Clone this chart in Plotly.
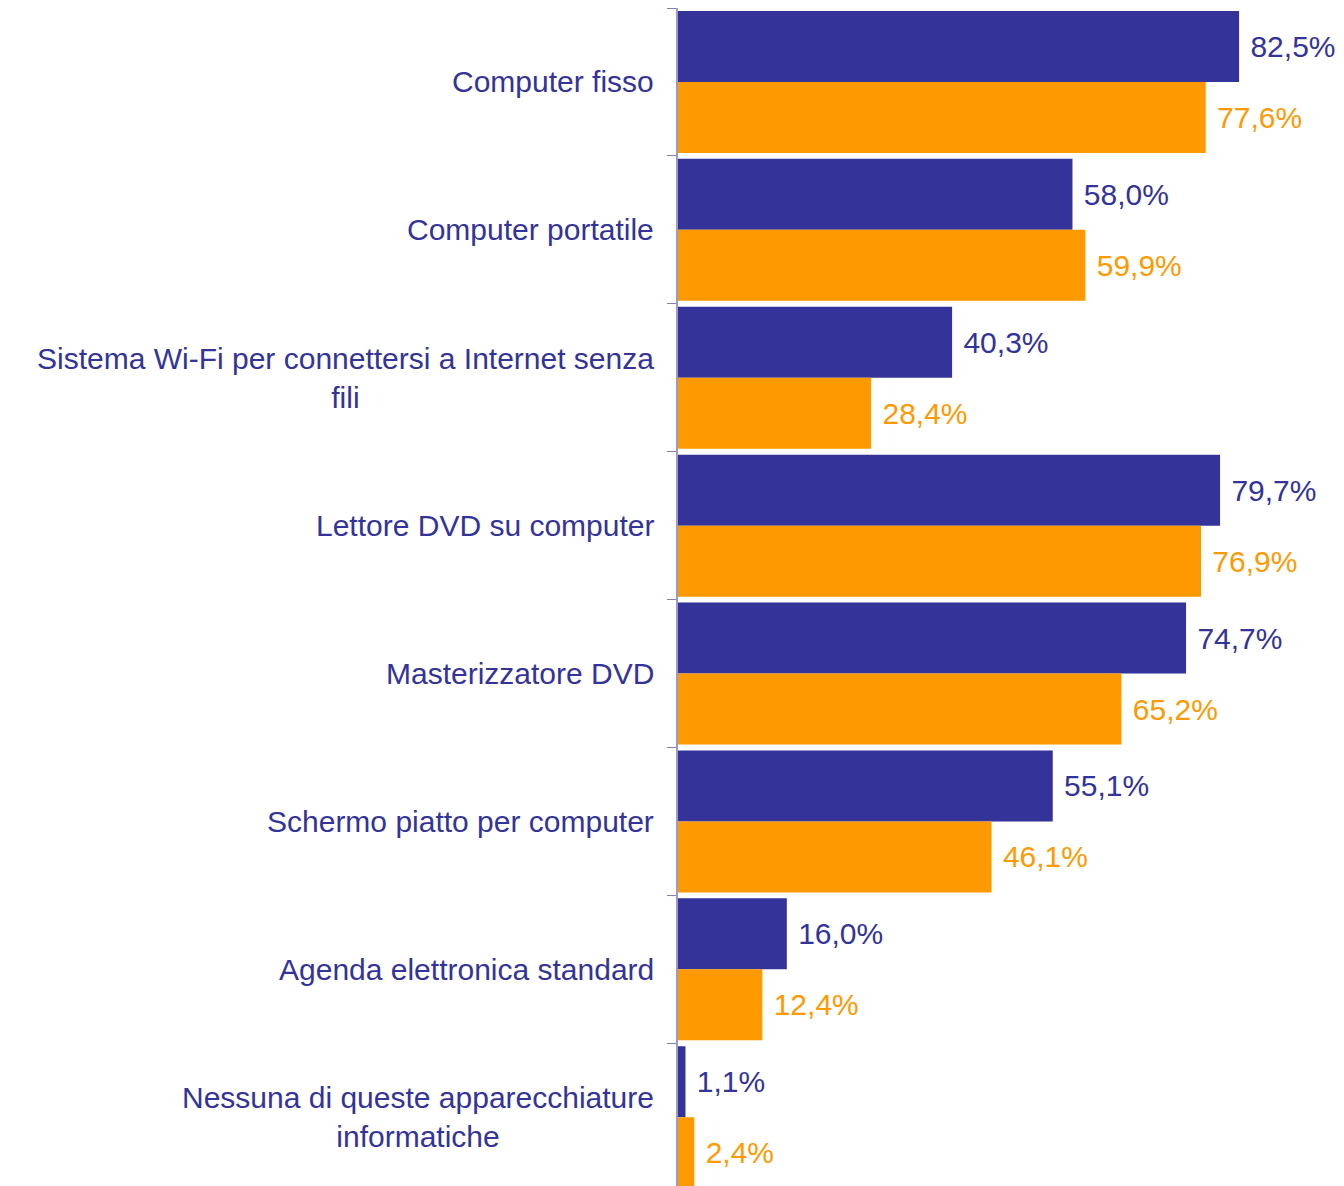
import plotly.graph_objects as go

categories = [
    "Computer fisso",
    "Computer portatile",
    "Sistema Wi-Fi per connettersi a Internet senza<br>fili",
    "Lettore DVD su computer",
    "Masterizzatore DVD",
    "Schermo piatto per computer",
    "Agenda elettronica standard",
    "Nessuna di queste apparecchiature<br>informatiche",
]
series_a = [82.5, 58.0, 40.3, 79.7, 74.7, 55.1, 16.0, 1.1]
series_b = [77.6, 59.9, 28.4, 76.9, 65.2, 46.1, 12.4, 2.4]

NAVY = "#333399"
ORANGE = "#FF9900"
FONT = "Liberation Sans, Arial, sans-serif"

fig = go.Figure()
fig.add_trace(go.Bar(
    y=categories, x=series_a, orientation="h", marker_color=NAVY, marker_line_width=0,
    texttemplate="\u00a0%{x:.1f}%", textposition="outside", cliponaxis=False,
    constraintext="none",
    outsidetextfont=dict(family=FONT, size=30, color=NAVY),
    hoverinfo="skip", showlegend=False,
))
fig.add_trace(go.Bar(
    y=categories, x=series_b, orientation="h", marker_color=ORANGE, marker_line_width=0,
    texttemplate="\u00a0%{x:.1f}%", textposition="outside", cliponaxis=False,
    constraintext="none",
    outsidetextfont=dict(family=FONT, size=30, color=ORANGE),
    hoverinfo="skip", showlegend=False,
))

for c in categories:
    fig.add_annotation(
        x=0, y=c, xref="x", yref="y", text=c, showarrow=False,
        xanchor="right", yanchor="middle", align="center", xshift=-22,
        font=dict(family=FONT, size=30, color=NAVY),
    )

fig.update_layout(
    width=1344, height=1186,
    margin=dict(l=670, r=0, t=0, b=0),
    paper_bgcolor="white", plot_bgcolor="white",
    barmode="group", bargap=0.04, bargroupgap=0,
    separators=",.",
    xaxis=dict(range=[0, 99.1], visible=False, showgrid=False, zeroline=False),
    yaxis=dict(
        type="category", categoryorder="array", categoryarray=categories,
        range=[7.519, -0.5], showticklabels=False,
        tickson="boundaries", ticks="outside", ticklen=9, tickcolor="#8080B8",
        showline=True, linecolor="#9999CC", linewidth=2, showgrid=False,
        zeroline=False,
    ),
)

fig.write_html("out.html")
